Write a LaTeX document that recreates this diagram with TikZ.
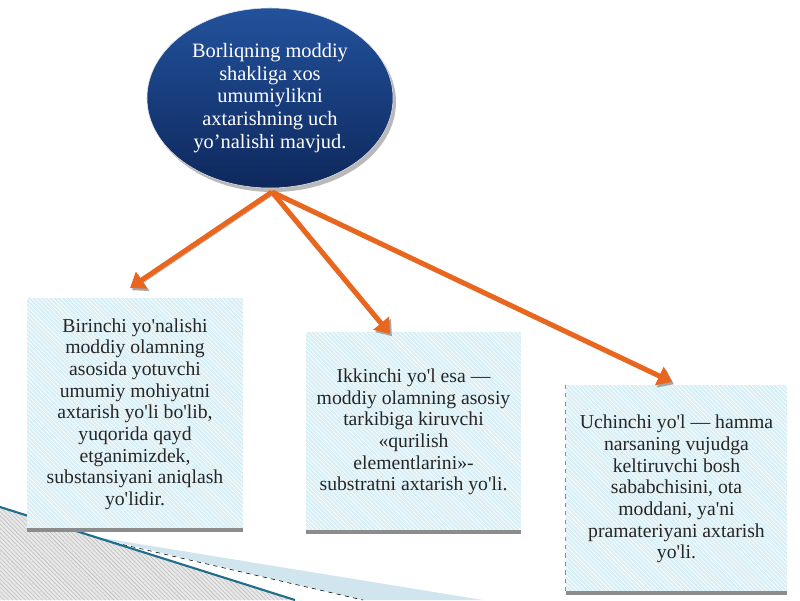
\documentclass[tikz,border=0pt]{standalone}
\usepackage{fontspec}
\setmainfont{Liberation Serif}
\usetikzlibrary{shapes.geometric,arrows.meta,patterns}
\definecolor{arrorange}{RGB}{232,102,30}
\definecolor{elltop}{RGB}{34,82,156}
\definecolor{ellbot}{RGB}{14,40,92}
\definecolor{boxblue}{RGB}{216,239,246}
\definecolor{edgegray}{RGB}{140,140,140}
\definecolor{swoosh}{RGB}{30,110,140}
\definecolor{band}{RGB}{208,229,237}
\newcommand{\ap}{\textquotesingle}

\tikzset{
  box/.style={rectangle, fill=boxblue, inner sep=0pt, align=center,
    postaction={pattern=north west lines, pattern color=white},
    text=black!85, font=\fontsize{14}{15.4}\selectfont},
  boxedge/.style={edgegray, line width=3pt},
  branch/.style={arrorange, line width=3.6pt, -{Triangle[length=10pt,width=14pt]},
    preaction={draw=gray!70, transform canvas={shift={(1.4pt,-1.6pt)}}}}
}

\begin{document}
\begin{tikzpicture}[x=0.025cm, y=-0.025cm]
		\useasboundingbox (0,0) rectangle (800,600);
		% bottom left decoration
		\fill[band] (90,536) -- (483,600) -- (363,600) -- cycle;
		\draw[black, dashed, thin] (90,537) -- (363,600);
		\fill[gray!18] (0,507) -- (295,600) -- (0,600) -- cycle;
		\fill[pattern=north west lines, pattern color=gray!50] (0,507) -- (295,600) -- (0,600) -- cycle;
		\draw[swoosh, line width=1.5pt] (0,507) -- (295,600);
		
		% top ellipse
		\fill[gray!55] (273,102) ellipse (123 and 90);
		\node[ellipse, minimum width=6.15cm, minimum height=4.5cm, inner sep=0pt,
			top color=elltop, bottom color=ellbot, draw=white!80!gray, thin,
			text=white, align=center, font=\fontsize{14.5}{16.2}\selectfont] (root) at (270,98)
			{Borliqning moddiy\\ shakliga xos\\ umumiylikni\\ axtarishning uch\\ yo’nalishi mavjud.};
		
		% three boxes
		\node[box, minimum width=5.4cm, minimum height=5.8cm] (first) at (135,414)
			{Birinchi yo\ap nalishi\\ moddiy olamning\\ asosida yotuvchi\\ umumiy mohiyatni\\ axtarish yo\ap li bo\ap lib,\\ yuqorida qayd\\ etganimizdek,\\ substansiyani aniqlash\\ yo\ap lidir.};
		\node[box, minimum width=5.375cm, minimum height=5cm] (second) at (413.5,432)
			{Ikkinchi yo\ap l esa —\\ moddiy olamning asosiy\\ tarkibiga kiruvchi\\ «qurilish\\ elementlarini»-\\ substratni axtarish yo\ap li.};
		\node[box, minimum width=5.525cm, minimum height=5.2cm] (third) at (676.5,489)
			{Uchinchi yo\ap l — hamma\\ narsaning vujudga\\ keltiruvchi bosh\\ sababchisini, ota\\ moddani, ya\ap ni\\ pramateriyani axtarish\\ yo\ap li.};
		\draw[boxedge] (first.south west) -- (first.south east);
		\draw[boxedge] (second.south west) -- (second.south east);
		\draw[boxedge] (third.south west) -- (third.south east);
		\draw[edgegray, dashed] (third.north west) -- (third.south west);
		
		% arrows
		\coordinate (fork) at (272,192);
		\coordinate (tipA) at (130,288);
		\coordinate (tipB) at (390,334);
		\coordinate (tipC) at (672,382);
		\draw[branch] (fork) -- (tipA);
		\draw[branch] (fork) -- (tipB);
		\draw[branch] (fork) -- (tipC);
		
\end{tikzpicture}
\end{document}
